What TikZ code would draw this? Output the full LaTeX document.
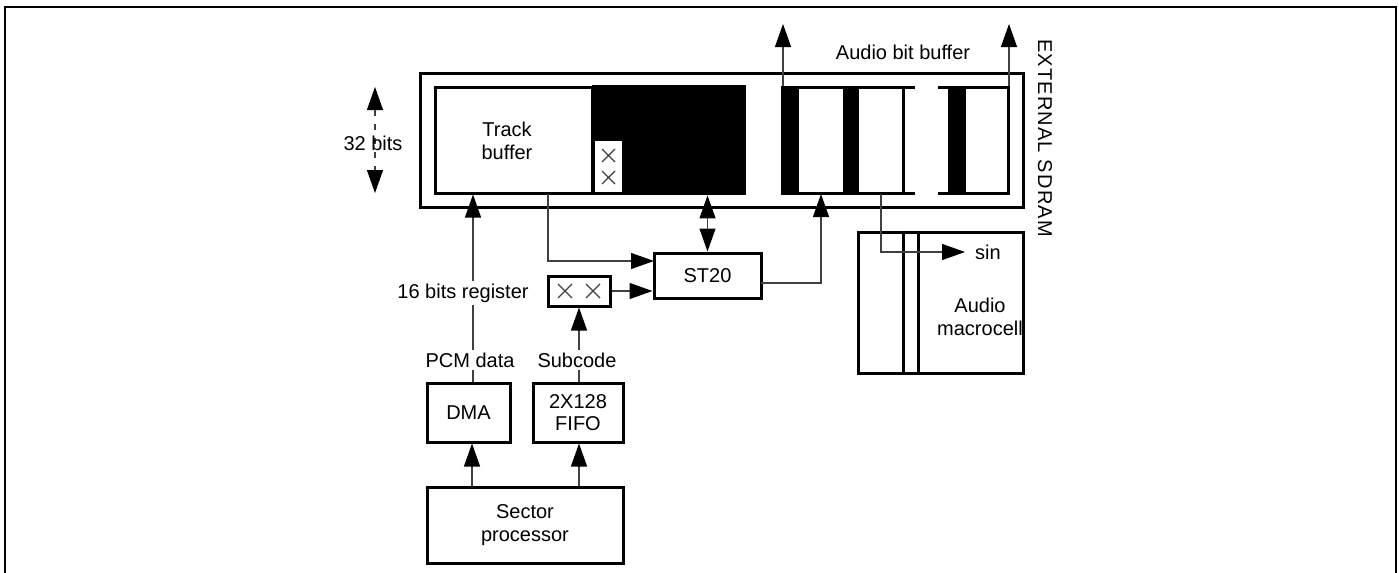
\documentclass[tikz,border=0pt]{standalone}
\usepackage{fontspec}
\setmainfont{Liberation Sans}
\usetikzlibrary{arrows.meta}
\begin{document}
\begin{tikzpicture}[x=0.5pt,y=-0.5pt,
  font=\fontsize{10}{11.2}\selectfont,
  blk/.style={draw, line width=1.5pt, inner sep=0pt, align=center},
  thick/.style={line width=1.5pt},
  thin/.style={line width=0.6pt, draw=black!75},
  tip/.style={-{Triangle[length=11.5pt,width=8pt,color=black]}},
  bitip/.style={{Triangle[length=11.5pt,width=8pt,color=black]}-{Triangle[length=11.5pt,width=8pt,color=black]}},
  lbl/.style={fill=white, inner sep=1.5pt, align=center}]
\useasboundingbox (0,0) rectangle (1399,573);
\draw[line width=1pt] (5,573) -- (5,6.5) -- (1396,6.5) -- (1396,573);

% external SDRAM
\node[blk, minimum width=301.5pt, minimum height=67pt] (sdram) at (721.5,140) {};
\node[rotate=-90] (ext) at (1045,138) {\addfontfeature{LetterSpace=6}EXTERNAL SDRAM};

% track buffer
\node[blk, minimum width=78.5pt, minimum height=53pt] (track) at (513.5,140) {};
\node[align=center] (tracklbl) at (507,141) {Track\\buffer};
\node[fill, inner sep=0pt, minimum width=77pt, minimum height=55pt] (tbfill) at (669,140) {};
\node[fill=white, inner sep=0pt, minimum width=13.5pt, minimum height=25.5pt] (xbox) at (608.5,166.5) {};
\draw[thin] (602,149) -- (615,162) (602,162) -- (615,149)
            (602,171) -- (615,184) (602,184) -- (615,171);

% audio bit buffer
\fill (781,86) rectangle (799,194);
\fill (843,86) rectangle (859,194);
\draw[thick] (781,87) -- (915,87) (781,193) -- (915,193) (903,87) -- (903,193);
\fill (948,86) rectangle (966,194);
\draw[thick] (938,87) -- (1010,87) (938,193) -- (1010,193) (1008.5,87) -- (1008.5,193);
\node (abb) at (903,52) {Audio bit buffer};
\coordinate (ab1) at (783,86);
\coordinate (ab1t) at (783,24);
\coordinate (ab2) at (1009,86);
\coordinate (ab2t) at (1009,24);
\draw[thin, tip] (ab1) -- (ab1t);
\draw[thin, tip] (ab2) -- (ab2t);

% 32 bits
\coordinate (b32t) at (375,87);
\coordinate (b32tb) at (375,110);
\coordinate (b32b) at (375,193);
\coordinate (b32bb) at (375,170);
\draw[thin, dash pattern=on 3pt off 4pt] (b32tb) -- (b32bb);
\draw[thin, tip] (b32tb) -- (b32t);
\draw[thin, tip] (b32bb) -- (b32b);
\node (b32) at (373,143) {32 bits};

% boxes
\node[blk, minimum width=53.5pt, minimum height=22.5pt] (st20) at (707.5,275.5) {ST20};
\node[blk, minimum width=31pt, minimum height=15pt] (reg) at (579,291) {};
\draw[thin] (558,284) -- (572,298) (558,298) -- (572,284)
            (586,284) -- (600,298) (586,298) -- (600,284);
\node[blk, minimum width=41.5pt, minimum height=29.5pt] (dma) at (468.5,412.5) {DMA};
\node[blk, minimum width=45pt, minimum height=29.5pt] (fifo) at (578,412.5) {2X128\\FIFO};
\node[blk, minimum width=98pt, minimum height=38pt] (sector) at (525,525) {Sector\\processor};
\node[blk, minimum width=82.5pt, minimum height=70.5pt] (macro) at (940.5,302.5) {};
\draw[thick] (macro.north -| 903,0) -- (macro.south -| 903,0)
             (macro.north -| 918,0) -- (macro.south -| 918,0);
\node[align=center] (maclbl) at (980,317) {Audio\\macrocell};

% connectors
\coordinate (pcmx) at (473,0);
\draw[thin, tip] (dma.north -| pcmx) -- (track.south -| pcmx);
\node[lbl] (reglbl) at (463,293) {16 bits register};
\node[lbl] (pcm) at (470,360) {PCM data};

\coordinate (tbout) at (548,194);
\coordinate (tbin) at (654,261);
\draw[thin, tip] (tbout) |- (tbin);
\draw[thin, tip] (reg.east) -- (st20.west |- reg.east);
\draw[thin, bitip] (st20.north) -- (tbfill.south -| st20.north);

\coordinate (stout) at (761,283);
\coordinate (audin) at (821,194);
\draw[thin, tip] (stout) -| (audin);

\coordinate (audout) at (881,194);
\coordinate (sinin) at (965,252);
\draw[thin, tip] (audout) |- (sinin);
\node[anchor=west] (sin) at (968,252) {sin};

\draw[thin, tip] (fifo.north -| reg.south) -- (reg.south);
\node[lbl] (sub) at (577,360) {Subcode};

\coordinate (dmax) at (472,0);
\draw[thin, tip] (sector.north -| dmax) -- (dma.south -| dmax);
\draw[thin, tip] (sector.north -| reg.south) -- (fifo.south -| reg.south);
\end{tikzpicture}
\end{document}
